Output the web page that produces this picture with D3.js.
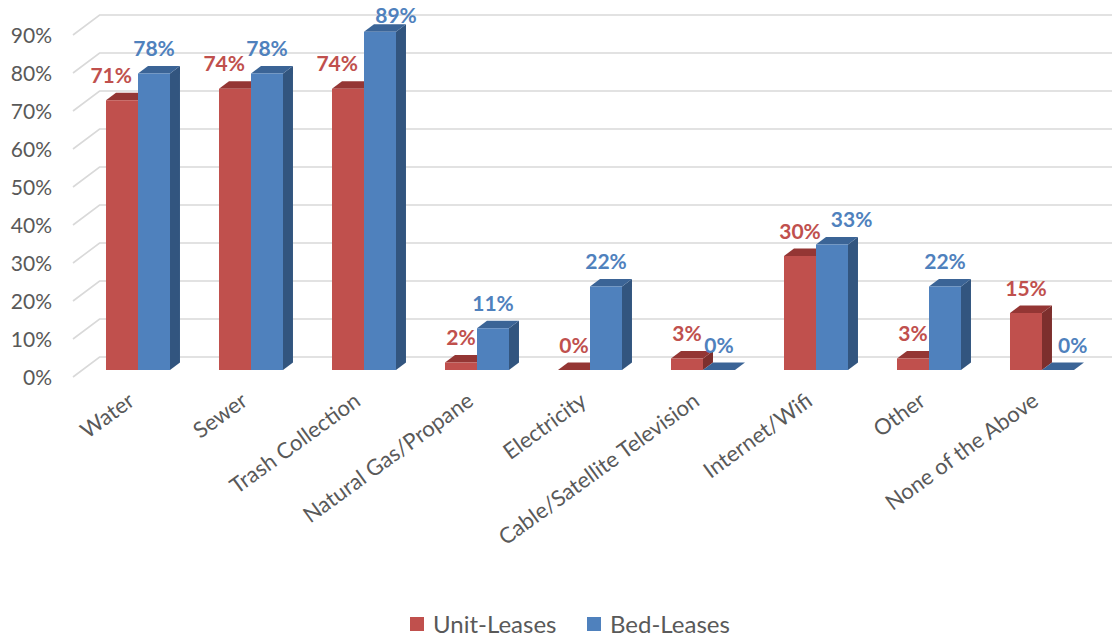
<!DOCTYPE html>
<html>
<head>
<meta charset="utf-8">
<script src="https://cdn.jsdelivr.net/npm/d3@7"></script>
<style>
  html, body { margin: 0; padding: 0; background: #ffffff; }
  svg { display: block; }
  text { font-family: Lato, "Open Sans", "DejaVu Sans", sans-serif; }
</style>
</head>
<body>
<svg id="chart" width="1115" height="639"></svg>
<script>
// ---- data ----
const categories = ["Water", "Sewer", "Trash Collection", "Natural Gas/Propane", "Electricity",
  "Cable/Satellite Television", "Internet/Wifi", "Other", "None of the Above"];
const seriesNames = ["Unit-Leases", "Bed-Leases"];
const unitLeases = [71, 74, 74, 2, 0, 3, 30, 3, 15];
const bedLeases = [78, 78, 89, 11, 22, 0, 33, 22, 0];
const yTicks = [0, 10, 20, 30, 40, 50, 60, 70, 80, 90];

const seriesValues = [unitLeases, bedLeases];
const palette = {
  "Unit-Leases": { front: "#C0504D", top: "#943634", side: "#7D2F2D" },
  "Bed-Leases":  { front: "#4F81BD", top: "#3B6496", side: "#32557F" }
};

const svg = d3.select("#chart");

// oblique projection: depth d moves a point right by KX*d and up by KY*d
const KX = 1.33, KY = 1;
const D_BAR_FRONT = 7, D_BAR_BACK = 14.5, D_WALL = 20;

// value scale on the front edge of the floor (depth 0)
const y = d3.scaleLinear().domain([0, 90]).range([377, 35]);
const floorLeft = 73, wallRight = 1112;

// category bands, measured on the front plane of the bars
const pad = 0.4336;
const x = d3.scaleBand().domain(categories)
  .range([81.5, 81.5 + 9 * 113]).paddingInner(pad).paddingOuter(pad / 2);
const xs = d3.scaleBand().domain(seriesNames).range([0, x.bandwidth()]);

const P = (x0, v, d) => [x0 + d * KX, y(v) - d * KY];

// ---- walls: side-wall diagonals and back-wall gridlines ----
const grid = svg.append("g").attr("stroke", "#D9D9D9").attr("stroke-width", 1.6).attr("fill", "none");
yTicks.forEach(t => {
  const a = P(floorLeft, t, 0), b = P(floorLeft, t, D_WALL);
  grid.append("path").attr("d", `M${a[0]},${a[1]}L${b[0]},${b[1]}L${wallRight},${b[1]}`);
});

// ---- y axis labels ----
svg.append("g").selectAll("text").data(yTicks).join("text")
  .attr("x", 52).attr("y", d => y(d) + 1).attr("dy", "0.35em")
  .attr("text-anchor", "end").attr("fill", "#595959").attr("font-size", 21)
  .text(d => d + "%");

// ---- 3D columns ----
const bars = [];
categories.forEach((c, i) => {
  seriesNames.forEach((s, j) => {
    const v = seriesValues[j][i];
    const xl = x(c) + xs(s) - D_BAR_FRONT * KX; // left edge at depth 0
    const w = xs.bandwidth();
    bars.push({ c, s, i, j, v, xl, w });
  });
});

const barG = svg.append("g");
bars.forEach(b => {
  const col = palette[b.s];
  const f0 = P(b.xl, 0, D_BAR_FRONT), f1 = P(b.xl + b.w, 0, D_BAR_FRONT);
  const ft0 = P(b.xl, b.v, D_BAR_FRONT), ft1 = P(b.xl + b.w, b.v, D_BAR_FRONT);
  const bk1 = P(b.xl + b.w, 0, D_BAR_BACK);
  const bt0 = P(b.xl, b.v, D_BAR_BACK), bt1 = P(b.xl + b.w, b.v, D_BAR_BACK);
  const g = barG.append("g");
  // right side face
  g.append("path").attr("fill", col.side)
    .attr("d", `M${f1}L${bk1}L${bt1}L${ft1}Z`);
  // top face
  g.append("path").attr("fill", col.top)
    .attr("d", `M${ft0}L${bt0}L${bt1}L${ft1}Z`);
  // front face
  g.append("path").attr("fill", col.front)
    .attr("d", `M${f0}L${f1}L${ft1}L${ft0}Z`);
  b.front = { x0: f0[0], x1: f1[0], top: ft0[1], bottom: f0[1] };
  b.box = { x0: f0[0], x1: bk1[0], y0: bt0[1], y1: f0[1] };
});

// ---- data labels ----
const labelG = svg.append("g");
const CAP = 6; // half the height of the digits
const GAP = 6;
const overlaps = (a, b) => a.x0 < b.x1 && a.x1 > b.x0 && a.y0 < b.y1 && a.y1 > b.y0;

const labels = bars.map(b => {
  const t = labelG.append("text")
    .attr("text-anchor", "middle").attr("font-weight", "bold").attr("font-size", 21)
    .attr("fill", palette[b.s].front)
    .text(b.v + "%");
  const w = t.node().getComputedTextLength();
  let cx = (b.front.x0 + b.front.x1) / 2;
  let cy = b.front.top - 25;
  let clamped = false;
  if (cy - CAP < 9) { cy = 9 + CAP; clamped = true; }
  return { b, t, w, cx, cy, clamped };
});

const boxOf = L => ({ x0: L.cx - L.w / 2, x1: L.cx + L.w / 2, y0: L.cy - CAP, y1: L.cy + CAP });

labels.forEach(L => {
  const dir = L.b.j === 0 ? -1 : 1;
  // labels squeezed by the top edge slide off their own bar's top
  if (L.clamped) L.cx += dir * L.b.w / 2;
  // keep clear of the neighbouring column in the same category
  bars.filter(o => o.i === L.b.i && o !== L.b).forEach(o => {
    if (overlaps(boxOf(L), o.box)) {
      L.cx = dir < 0 ? o.box.x0 - GAP - L.w / 2 : o.box.x1 + GAP + L.w / 2;
    }
  });
});
// separate the two labels of a category if they collide
categories.forEach((c, i) => {
  const [a, b] = labels.filter(L => L.b.i === i);
  if (overlaps(boxOf(a), boxOf(b))) b.cx = a.cx + a.w / 2 + GAP + b.w / 2 + 4;
});
labels.forEach(L => L.t.attr("x", L.cx).attr("y", L.cy).attr("dy", "0.36em"));

// ---- category labels ----
svg.append("g").selectAll("text").data(categories).join("text")
  .attr("text-anchor", "end").attr("fill", "#595959").attr("font-size", 22)
  .attr("transform", c => {
    const cx = x(c) + x.bandwidth() / 2 - 2;
    return `translate(${cx},404) rotate(-36)`;
  })
  .text(c => c);

// ---- legend ----
const legend = svg.append("g").attr("transform", "translate(410,617)");
const items = [{ s: "Unit-Leases", x: 0 }, { s: "Bed-Leases", x: 177 }];
items.forEach(it => {
  legend.append("rect").attr("x", it.x).attr("y", 0).attr("width", 14).attr("height", 14)
    .attr("fill", palette[it.s].front);
  legend.append("text").attr("x", it.x + 23).attr("y", 7).attr("dy", "0.36em")
    .attr("fill", "#595959").attr("font-size", 24).text(it.s);
});
</script>
</body>
</html>
